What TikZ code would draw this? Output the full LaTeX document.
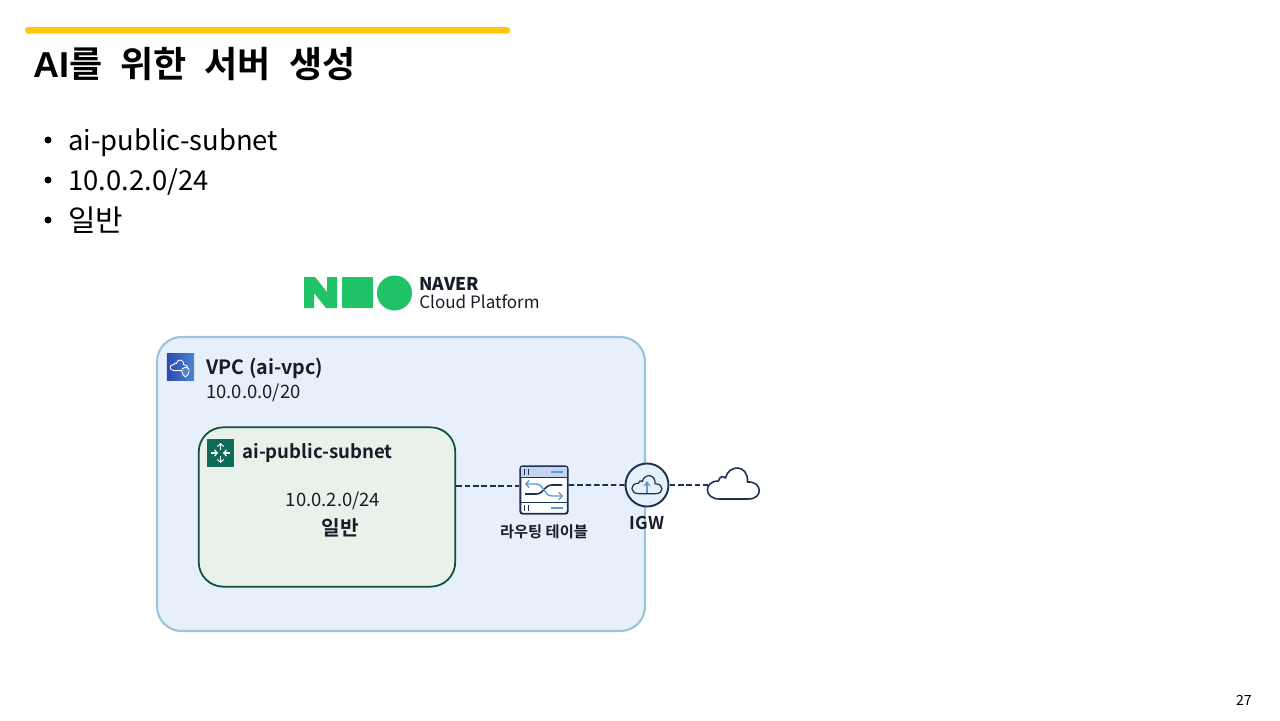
\documentclass[tikz,border=0pt]{standalone}
\usepackage{fontspec}
\setmainfont{Noto Sans CJK KR}[BoldFont={Noto Sans CJK KR Bold}]
\newfontfamily\titlefont{Liberation Sans Bold}
\newfontfamily\titlekr[WordSpace=2.2]{Noto Sans CJK KR Bold}
\newfontfamily\logofont{Noto Sans CJK KR Black}
\usetikzlibrary{arrows.meta}

\definecolor{barYellow}{HTML}{FFC60A}
\definecolor{vpcFill}{HTML}{E7F0FA}
\definecolor{vpcLine}{HTML}{9CC3D8}
\definecolor{subnetFill}{HTML}{E9F2EA}
\definecolor{subnetLine}{HTML}{0E4F3E}
\definecolor{subnetIcon}{HTML}{0E6B58}
\definecolor{naverGreen}{HTML}{1FC366}
\definecolor{ink}{HTML}{161C28}
\definecolor{iconLine}{HTML}{1D3252}
\definecolor{iconBlue}{HTML}{5B9BD5}
\definecolor{rowBlue}{HTML}{C5D3F0}
\definecolor{vpcIconA}{HTML}{2C4AAE}
\definecolor{vpcIconB}{HTML}{4C84D4}

\tikzset{
  bullet/.style={anchor=west,inner sep=0pt,font=\fontsize{15.6}{20}\selectfont},
  boxlabel/.style={inner sep=0pt,text=ink,font=\fontsize{10.5}{13}\selectfont},
  boldlabel/.style={boxlabel,font=\fontsize{11.2}{14}\selectfont\bfseries},
  smalllabel/.style={boxlabel,font=\fontsize{8.7}{11}\selectfont\bfseries},
  link/.style={draw=iconLine,line width=1pt,dash pattern=on 3.2pt off 1.6pt},
  iconbox/.style={minimum size=15.5pt,inner sep=0pt},
  barb/.style={white,line width=0.6pt,-{Straight Barb[length=1.6pt,width=3.6pt]}},
  pics/cloudicon/.style={code={
    \draw[#1,line join=round] (-14,15) .. controls (-30,15) and (-30,-3) .. (-15,-3)
      .. controls (-14,-8) and (-10,-8) .. (-8,-6)
      .. controls (-5,-20) and (15,-20) .. (14,-2)
      .. controls (29,-3) and (30,15) .. (15,15) -- cycle;
  }}
}

\begin{document}
\begin{tikzpicture}[x=0.02cm,y=-0.02cm]
  \useasboundingbox (0,0) rectangle (1280,720);

  % title
  \fill[barYellow,rounded corners=1.5pt] (25,27) rectangle (510,33.5);
  \node[anchor=west,inner sep=0pt,font=\fontsize{20.5}{24}\selectfont] (title) at (33,64)
    {\titlefont AI\titlekr 를 위한 서버 생성};

  \node[bullet] (item1) at (68,143) {ai-public-subnet};
  \node[bullet] (item2) at (68,182) {10.0.2.0/24};
  \node[bullet,font=\fontsize{17}{20}\selectfont] (item3) at (68,220) {일반};
  \foreach \y in {140,180,220}
    \fill (48,\y) circle (3.5);

  % logo
  \fill[naverGreen] (304,277) -- (315,277) -- (327,292) -- (327,277) -- (337,277) -- (337,308)
    -- (326,308) -- (314,293) -- (314,308) -- (304,308) -- cycle;
  \fill[naverGreen] (342,277) rectangle (373,308);
  \fill[naverGreen] (394.5,293) circle (17.5);
  \node[anchor=west,inner sep=0pt,text=ink,font=\fontsize{10}{11}\selectfont\logofont] (naver) at (419,284) {NAVER};
  \node[anchor=west,inner sep=0pt,text=ink,font=\fontsize{9.7}{12}\selectfont] (platform) at (419,302) {Cloud Platform};

  % vpc
  \draw[fill=vpcFill,draw=vpcLine,line width=1.2pt,rounded corners=14pt] (157,337) rectangle (645,631);
  \node[iconbox,left color=vpcIconA,right color=vpcIconB] (vpcicon) at (180.5,367) {};
  \pic at (179,365.5) {cloudicon={white,line width=0.5pt,scale=0.34}};
  \draw[white,line width=0.5pt,fill=vpcIconB] (182,369) -- (185.5,367) -- (189,369) -- (189,372)
    .. controls (189,374) and (187,376) .. (185.5,377) .. controls (184,376) and (182,374) .. (182,372) -- cycle;
  \node[boldlabel,anchor=west] (vpcname) at (206,368) {VPC (ai-vpc)};
  \node[boxlabel,anchor=west] (vpccidr) at (206,393) {10.0.0.0/20};

  % subnet
  \node[draw=subnetLine,fill=subnetFill,line width=1pt,rounded corners=14pt,
    minimum width=146pt,minimum height=90.7pt] (subnet) at (327,507) {};
  \node[iconbox,fill=subnetIcon] (subneticon) at (220.5,453) {};
  \draw[barb] (211,453) -- (218,453);
  \draw[barb] (230,453) -- (223,453);
  \draw[barb] (220.5,450) -- (220.5,443);
  \draw[barb] (220.5,456) -- (220.5,463);
  \node[boldlabel,font=\fontsize{10.6}{14}\selectfont\bfseries,anchor=west] (subnetname) at (242,453) {ai-public-subnet};
  \node[boxlabel] (subnetcidr) at (333,501) {10.0.2.0/24};
  \node[boxlabel,font=\fontsize{11.5}{14}\selectfont\bfseries] (subnettype) at (340,528) {일반};

  % routing table
  \node[draw=iconLine,fill=white,line width=1.1pt,rounded corners=1.5pt,minimum width=27pt,minimum height=27pt,inner sep=0pt] (rt) at (544,490) {};
  \fill[rowBlue] (521,467) rectangle (567,477);
  \draw[iconLine,line width=1pt] (520,477.5) -- (568,477.5) (520,502.5) -- (568,502.5);
  \draw[iconLine,line width=1pt] (524.5,469) -- (524.5,475) (528.5,469) -- (528.5,475) (524.5,505) -- (524.5,511) (528.5,505) -- (528.5,511);
  \draw[iconBlue,line width=0.9pt] (551,472) -- (563,472) (551,508) -- (563,508);
  \draw[iconLine,line width=0.9pt] (525,494) -- (536,494) .. controls (544,494) and (544,485) .. (552,485) -- (562,485);
  \draw[iconBlue,line width=0.8pt,{Straight Barb[length=1.8pt,width=4pt]}-{Straight Barb[length=1.8pt,width=4pt]}]
    (525,484) -- (536,484) .. controls (544,484) and (544,496) .. (552,496) -- (563,496);
  \node[smalllabel] (rtlabel) at (544,532) {라우팅 테이블};

  % internet gateway
  \node[circle,draw=iconLine,fill=vpcFill,line width=1.1pt,minimum size=24.5pt,inner sep=0pt] (igw) at (647,485) {};
  \pic at (igw) {cloudicon={iconLine,line width=0.7pt,scale=0.58}};
  \draw[iconBlue,line width=1pt,-{Stealth[length=3pt,width=4pt]}] (647,493) -- (647,481);
  \node[smalllabel,font=\fontsize{10}{12}\selectfont\bfseries] (igwlabel) at (647,523) {IGW};

  % internet
  \node[minimum width=29pt,minimum height=18pt,inner sep=0pt] (cloud) at (733.5,484) {};
  \pic at (cloud) {cloudicon={iconLine,line width=0.9pt,fill=white}};

  % connectors
  \draw[link] ([yshift=2.3pt]subnet.east |- rt.west) -- ([yshift=2.3pt]rt.west);
  \draw[link] ([yshift=2.8pt]rt.east) -- (igw.west);
  \draw[link] (igw.east) -- (cloud.west |- igw.east);

  \node[anchor=east,inner sep=0pt,font=\fontsize{8}{10}\selectfont] (pagenum) at (1252,700) {27};
\end{tikzpicture}
\end{document}
